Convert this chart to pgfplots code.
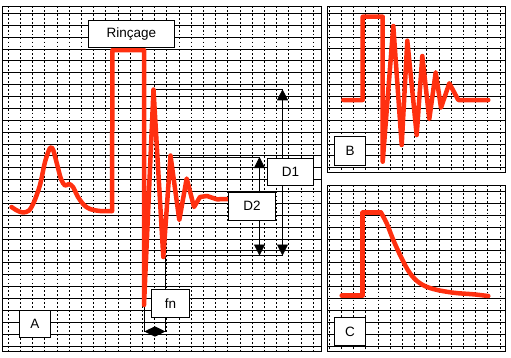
\documentclass[border=0pt]{standalone}
\usepackage{pgfplots}
\pgfplotsset{compat=1.18}
\usepackage{fontspec}
\setmainfont{Liberation Sans}
\usetikzlibrary{arrows.meta}
\definecolor{curve}{RGB}{255,48,16}
\pgfplotsset{
  panel/.style={
    scale only axis, y dir=reverse,
    ytick={13.3,25.18,37.06,48.94,60.82,72.70,84.58,96.46,108.34,120.22,132.10,143.98,155.86,167.74,179.62,191.50,203.38,215.26,227.14,239.02,250.90,262.78,274.66,286.54,298.42,310.30,322.18,334.06,345.94},
    xticklabels={}, yticklabels={}, major tick length=0pt,
    xmajorgrids, ymajorgrids,
    x grid style={black, line width=1pt, dash pattern=on 1.8pt off 2.15pt},
    y grid style={black, line width=0.9pt},
    axis line style={black, line width=1pt},
    clip=false,
  },
}
\tikzset{
  red curve/.style={curve, line width=4.5pt, line join=round, line cap=round},
  lbl/.style={draw=black, fill=white, line width=0.8pt, inner sep=0pt, font=\fontsize{13.5}{15}\selectfont},
  tri/.tip={Triangle[length=11pt,width=11pt]},
  trs/.tip={Triangle[length=10.5pt,width=10pt]},
}
\begin{document}
\begin{tikzpicture}
\useasboundingbox (0,0) rectangle (511pt,-357pt);
% Panel A
\begin{axis}[panel, at={(3pt,-6pt)}, anchor=north west, width=318pt, height=345pt,
  xmin=3, xmax=321, ymin=6, ymax=351, xtick={8.3,20.5,...,320}]
\draw[black, line width=0.8pt] (axis cs:156,89.3) -- (axis cs:282.5,89.3);
\draw[black, line width=0.8pt, tri-tri] (axis cs:282.5,89.3) -- (axis cs:282.5,255.5);
\draw[black, line width=0.8pt] (axis cs:172,157) -- (axis cs:259.5,157);
\draw[black, line width=0.8pt, tri-tri] (axis cs:259.5,157) -- (axis cs:259.5,255.5);
\draw[black, line width=0.8pt] (axis cs:165.7,255.5) -- (axis cs:282.5,255.5);
\draw[black, line width=0.8pt] (axis cs:144,300) -- (axis cs:144,331.5);
\draw[black, line width=0.8pt] (axis cs:165.7,255.5) -- (axis cs:165.7,331.5);
\draw[black, line width=0.8pt, trs-trs] (axis cs:144.3,331.5) -- (axis cs:165.5,331.5);
\addplot[red curve, no marks, smooth, tension=0.5] coordinates {
(11.5,207) (17,210.5) (23,212.5) (29,210.5) (34,202) (40,185) (45,162) (50,148) (53,149.5) (57,164) (61,179) (65,185.5) (69,184) (73,187) (78,197) (84,205) (90,209) (100,211) (112,211)};
\addplot[red curve, no marks] coordinates {
(112,211) (112.5,50) (144,50) (144,305) (153.5,89.5) (163.3,257) (170.5,155.5) (179.3,220) (186.7,178.5) (194,207) (200,197) (207,196) (217,199.3) (229,199)};
\node[lbl, minimum width=86pt, minimum height=27.3pt] at (axis cs:131.3,33.7) {Rinçage};
\node[lbl, minimum width=45.6pt, minimum height=26.7pt] at (axis cs:290.5,171.7) {D1};
\node[lbl, minimum width=47.4pt, minimum height=27.7pt] at (axis cs:252,206.2) {D2};
\node[lbl, minimum width=37.6pt, minimum height=28pt] at (axis cs:170.5,303.3) {fn};
\node[lbl, minimum width=31.4pt, minimum height=27.3pt] at (axis cs:35,323.7) {A};
\end{axis}
% Panel B
\begin{axis}[panel, at={(327pt,-6pt)}, anchor=north west, width=178pt, height=166pt,
  xmin=327, xmax=505, ymin=6, ymax=172, xtick={329.3,341.5,...,504}]
\addplot[red curve, no marks] coordinates {
(343.3,100) (362.7,100) (362.7,16.7) (382.7,16.7) (382.7,161.7) (393.3,26) (401.7,145) (407.3,40.7) (416.7,135) (422.3,56) (429.3,119) (435.7,72.3) (441,107.7) (449.3,83.3) (458.3,100) (488.3,100)};
\node[lbl, minimum width=31.4pt, minimum height=29pt] at (axis cs:350,151.2) {B};
\end{axis}
% Panel C
\begin{axis}[panel, at={(327pt,-185pt)}, anchor=north west, width=178pt, height=166pt,
  xmin=327, xmax=505, ymin=185, ymax=351, xtick={329.3,341.5,...,504}]
\addplot[red curve, no marks] coordinates {
(341.7,295.7) (362.7,295.7) (362.7,212.7) (381,212.7)};
\addplot[red curve, no marks, smooth, tension=0.6] coordinates {
(381,212.7) (386.7,223.3) (393.3,240) (401.7,258.3) (410,273.3) (420,283.3) (433.3,289) (453.3,292.7) (473.3,294.3) (488.3,296)};
\node[lbl, minimum width=31.4pt, minimum height=28.4pt] at (axis cs:350,331.5) {C};
\end{axis}
\end{tikzpicture}
\end{document}
